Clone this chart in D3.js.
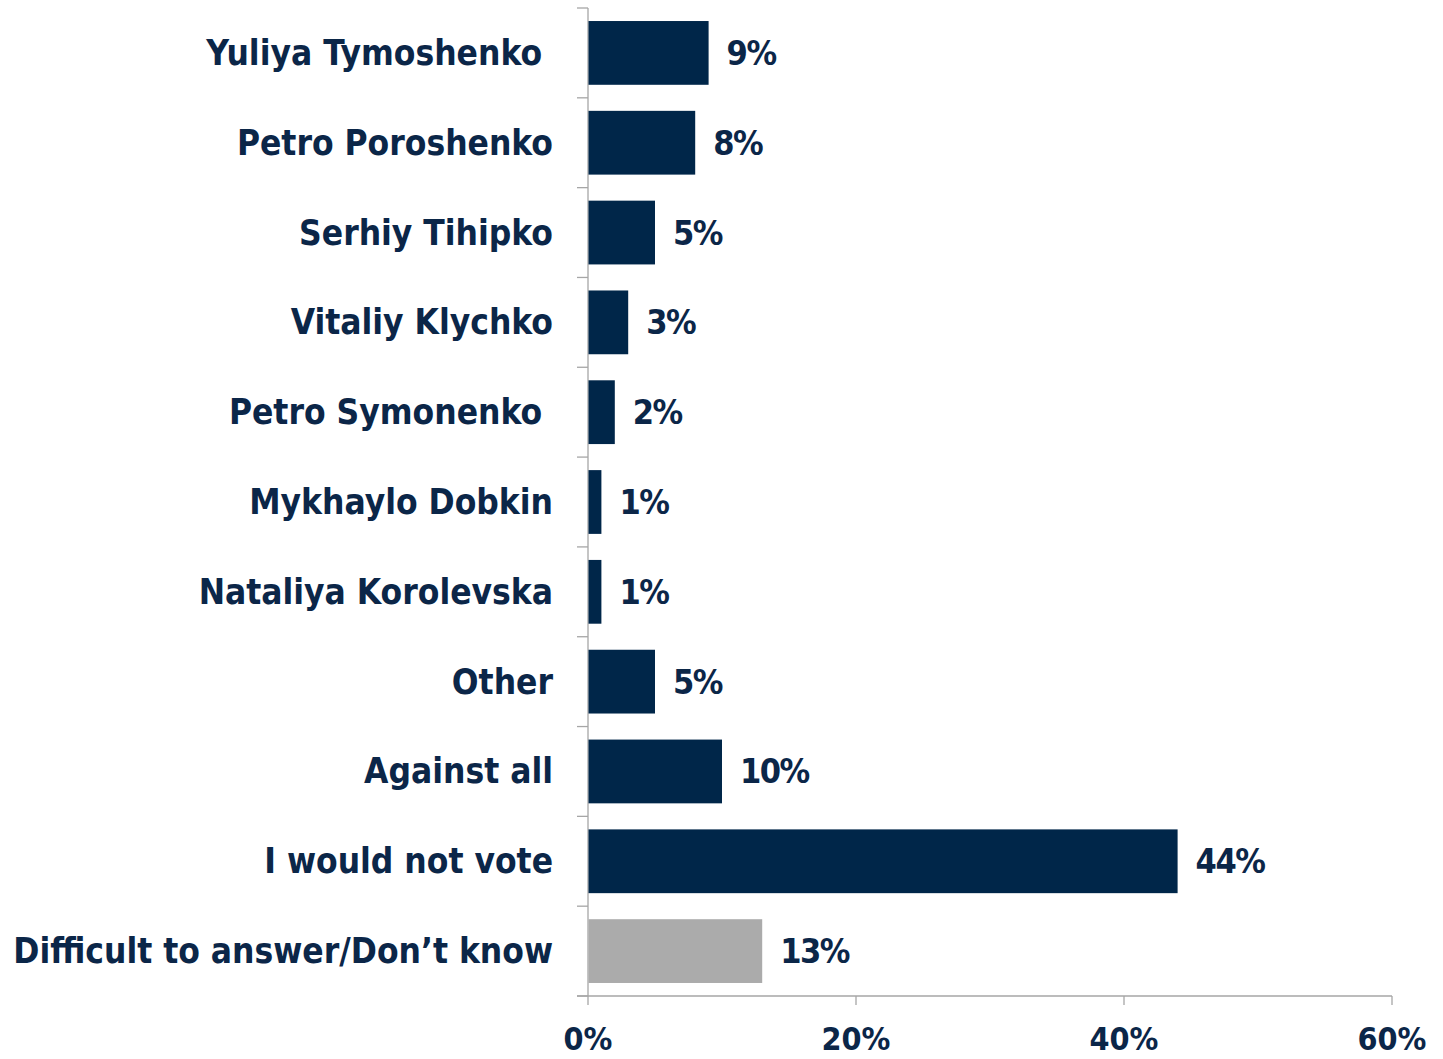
<!DOCTYPE html>
<html><head><meta charset="utf-8">
<script src="https://cdn.jsdelivr.net/npm/d3@7"></script>
<style>
html,body{margin:0;padding:0;background:#fff;}
svg{display:block;}
text{font-family:"DejaVu Sans Condensed","DejaVu Sans",sans-serif;font-weight:bold;fill:#0b2648;white-space:pre;}
</style></head>
<body>
<svg id="chart" width="1443" height="1059"></svg>
<script>
const categories = ["Yuliya Tymoshenko ","Petro Poroshenko","Serhiy Tihipko","Vitaliy Klychko","Petro Symonenko ","Mykhaylo Dobkin","Nataliya Korolevska","Other","Against all","I would not vote","Difficult to answer/Don\u2019t know"];
const values = [9,8,5,3,2,1,1,5,10,44,13];
const barColors = ["#002649","#002649","#002649","#002649","#002649","#002649","#002649","#002649","#002649","#002649","#ababab"];
const xTicks = [0,20,40,60];

(function(){
const svg = d3.select("#chart");
const pLeft = 588, pRight = 1392, pTop = 8, pBottom = 996;
const x = d3.scaleLinear().domain([0,60]).range([pLeft,pRight]);
const y = d3.scaleBand().domain(categories).range([pTop,pBottom]).paddingInner(0.29).paddingOuter(0.145);

const axisColor = "#a6a6a6";
svg.append("line").attr("x1",pLeft).attr("x2",pLeft).attr("y1",pTop).attr("y2",pBottom).attr("stroke",axisColor).attr("stroke-width",1.3);
const step = (pBottom-pTop)/categories.length;
d3.range(categories.length+1).forEach(i=>{
  const yy = pTop + i*step;
  svg.append("line").attr("x1",pLeft-11).attr("x2",pLeft).attr("y1",yy).attr("y2",yy).attr("stroke",axisColor).attr("stroke-width",1.3);
});
svg.append("line").attr("x1",pLeft-11).attr("x2",pRight).attr("y1",pBottom).attr("y2",pBottom).attr("stroke",axisColor).attr("stroke-width",1.3);
xTicks.forEach(t=>{
  svg.append("line").attr("x1",x(t)).attr("x2",x(t)).attr("y1",pBottom).attr("y2",pBottom+9).attr("stroke",axisColor).attr("stroke-width",1.3);
  svg.append("text").attr("x",x(t)).attr("y",1050).attr("text-anchor","middle")
    .attr("font-size",32).text(t+"%");
});

svg.selectAll("rect.bar").data(categories).enter().append("rect")
  .attr("x",pLeft+0.5).attr("y",d=>y(d)).attr("height",y.bandwidth())
  .attr("width",(d,i)=>x(values[i])-pLeft-0.5).attr("fill",(d,i)=>barColors[i]);

svg.selectAll("text.val").data(categories).enter().append("text")
  .attr("x",(d,i)=>x(values[i])+18).attr("y",d=>y(d)+y.bandwidth()/2+12)
  .attr("font-size",34).attr("letter-spacing",-1.5).text((d,i)=>values[i]+"%");

svg.selectAll("text.cat").data(categories).enter().append("text")
  .attr("x",553).attr("y",d=>y(d)+y.bandwidth()/2+12)
  .attr("text-anchor","end").attr("font-size",35).text(d=>d);
})();
</script>
</body></html>
